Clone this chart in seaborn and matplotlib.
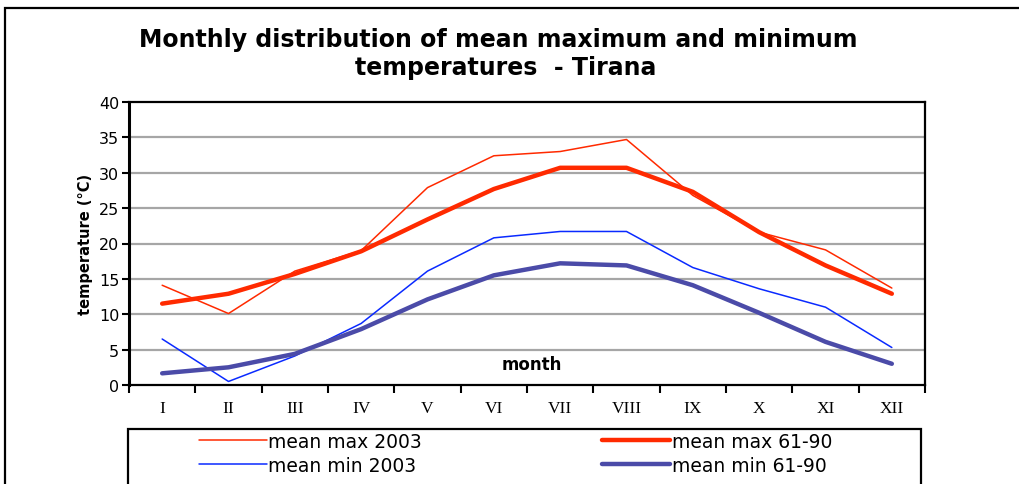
import numpy as np
import pandas as pd
import seaborn as sns
import matplotlib
matplotlib.use("Agg")
import matplotlib.pyplot as plt
from matplotlib.patches import Rectangle
from matplotlib.lines import Line2D

months = ["I", "II", "III", "IV", "V", "VI", "VII", "VIII", "IX", "X", "XI", "XII"]
mean_max_2003 = [14.1, 10.1, 16.1, 19.0, 27.9, 32.4, 33.0, 34.7, 26.8, 21.6, 19.1, 13.7]
mean_max_6190 = [11.5, 12.9, 15.7, 18.9, 23.4, 27.7, 30.7, 30.7, 27.3, 21.6, 16.9, 12.9]
mean_min_2003 = [6.5, 0.5, 4.1, 8.7, 16.1, 20.8, 21.7, 21.7, 16.6, 13.6, 11.0, 5.3]
mean_min_6190 = [1.65, 2.5, 4.4, 7.9, 12.1, 15.5, 17.2, 16.9, 14.1, 10.2, 6.1, 3.0]
y_ticks = [0, 5, 10, 15, 20, 25, 30, 35, 40]

series = [
    ("mean max 2003", mean_max_2003, "#ff2a00", 1.1),
    ("mean min 2003", mean_min_2003, "#0a2aff", 1.1),
    ("mean max 61-90", mean_max_6190, "#ff2a00", 3.2),
    ("mean min 61-90", mean_min_6190, "#4b4ba8", 3.2),
]

sns.set_theme(style="white")
plt.rcParams["font.family"] = ["DejaVu Sans"]
plt.rcParams.update({"text.color": "black", "axes.labelcolor": "black",
                     "xtick.color": "black", "ytick.color": "black"})

W, H = 1019, 485
fig = plt.figure(figsize=(W / 100, H / 100), dpi=100)
ax = fig.add_axes([129 / W, 1 - 386 / H, (925 - 129) / W, (386 - 103) / H])

x = np.arange(len(months))
for name, vals, color, lw in series:
    df = pd.DataFrame({"x": x, "y": vals})
    sns.lineplot(data=df, x="x", y="y", ax=ax, color=color, linewidth=lw,
                 solid_capstyle="round", solid_joinstyle="round", zorder=3)

ax.set_xlim(-0.5, 11.5)
ax.set_ylim(0, 40)
ax.set_yticks(y_ticks)
ax.set_yticklabels([str(v) for v in y_ticks], fontsize=11.5)
for v in y_ticks[1:-1]:
    ax.axhline(v, color="#a6a6a6", linewidth=1.6, zorder=1)

ax.set_xticks(x)
ax.set_xticklabels(months, fontfamily="Liberation Serif", fontsize=12.5)
ax.set_xticks(np.arange(-0.5, 12, 1), minor=True)
ax.tick_params(axis="x", which="major", length=0, pad=11)
ax.tick_params(axis="x", which="minor", length=6, width=1.5, color="black", direction="out")
ax.tick_params(axis="y", length=5, width=1.5, color="black", direction="out", pad=2)
ax.tick_params(axis="both", bottom=True, left=True)
ax.xaxis.set_tick_params(which="minor", bottom=True)

for s in ax.spines.values():
    s.set_visible(True)
    s.set_color("black")
    s.set_linewidth(1.6)
ax.spines["left"].set_linewidth(2.2)

ax.set_xlabel("")
ax.set_ylabel("temperature (°C)", fontsize=10.5, fontweight="bold", labelpad=4)
ax.text(5.58, 3.0, "month", fontsize=12, fontweight="bold", ha="center", va="center")

fig.text(498 / W, 1 - 40 / H, "Monthly distribution of mean maximum and minimum",
         fontsize=17, fontweight="bold", ha="center", va="center")
fig.text(506 / W, 1 - 68 / H, "temperatures  - Tirana",
         fontsize=17, fontweight="bold", ha="center", va="center")

# outer chart frame
fig.add_artist(Rectangle((5 / W, -0.2), 1.2, 1.2 - 9 / H, transform=fig.transFigure,
                         fill=False, edgecolor="black", linewidth=1.6, clip_on=False))
# legend frame
fig.add_artist(Rectangle((128 / W, -0.2), (921 - 128) / W, 0.2 + 1 - 430 / H,
                         transform=fig.transFigure, fill=False, edgecolor="black",
                         linewidth=1.6, clip_on=False))

handles = [Line2D([], [], color=c, linewidth=lw) for _, _, c, lw in series]
labels = [n for n, _, _, _ in series]
fig.legend(handles, labels, loc="upper left", bbox_to_anchor=(199 / W, 1 - 433 / H),
           ncol=2, frameon=False, fontsize=13.5, handlelength=3.6, handletextpad=0.1,
           columnspacing=9.6, labelspacing=0.25, borderpad=0, borderaxespad=0)

fig.savefig("out.png", dpi=100)
